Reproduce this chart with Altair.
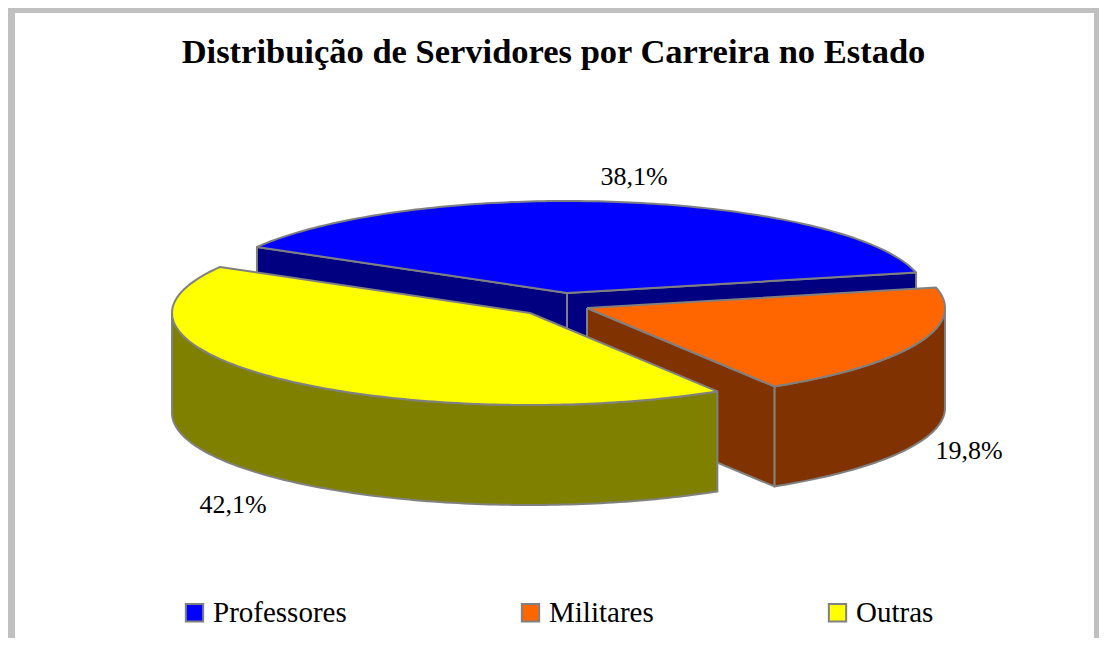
import numpy as np
import pandas as pd
import altair as alt

categories = ["Professores", "Militares", "Outras"]
shares = [38.1, 19.8, 42.1]
value_labels = ["38,1%", "19,8%", "42,1%"]
title_text = "Distribuição de Servidores por Carreira no Estado"

top_colors = ["#0000ff", "#ff6600", "#ffff00"]
wall_colors = ["#000080", "#803300", "#808000"]
GRAY = "#808080"
SERIF = "Liberation Serif"

W, H = 1091, 630
X0, Y0 = 8, 8
RX, RY, DEPTH = 358, 92, 100
START = 150.0
centers = [(567, 293), (587, 308), (530, 313)]
label_offsets = [(67, -116), (382, 143), (-297, 192)]

xs = alt.Scale(domain=[X0, X0 + W], nice=False, zero=False)
ys = alt.Scale(domain=[Y0, Y0 + H], reverse=True, nice=False, zero=False)


def arc(center, a0, a1, drop=0):
    n = max(2, int(abs(a1 - a0)) + 1)
    t = np.radians(np.linspace(a0, a1, n))
    return list(zip(center[0] + RX * np.cos(t), center[1] - RY * np.sin(t) + drop))


def polygon(points, fill, width=2.0):
    pts = list(points) + [points[0]]
    df = pd.DataFrame({"px": [p[0] for p in pts], "py": [p[1] for p in pts], "i": range(len(pts))})
    return (
        alt.Chart(df)
        .mark_line(filled=True, fill=fill, stroke=GRAY, strokeWidth=width, strokeJoin="round", interpolate="linear")
        .encode(
            x=alt.X("px:Q", scale=xs, axis=None),
            y=alt.Y("py:Q", scale=ys, axis=None),
            order=alt.Order("i:Q"),
        )
    )


layers = []
angle = START
bounds = []
for s in shares:
    bounds.append((angle, angle - s * 3.6))
    angle -= s * 3.6

# hidden key layer: gives the legend its entries
key = pd.DataFrame({"Carreira": categories, "px": [c[0] for c in centers], "py": [c[1] for c in centers]})
layers.append(
    alt.Chart(key)
    .mark_square(size=1, filled=True)
    .encode(
        x=alt.X("px:Q", scale=xs, axis=None),
        y=alt.Y("py:Q", scale=ys, axis=None),
        color=alt.Color(
            "Carreira:N",
            scale=alt.Scale(domain=categories, range=top_colors),
            sort=None,
            legend=alt.Legend(
                title=None,
                orient="none",
                legendX=172,
                legendY=590,
                direction="horizontal",
                columns=3,
                columnPadding=169,
                symbolType="square",
                symbolSize=300,
                symbolStrokeColor=GRAY,
                symbolStrokeWidth=2,
                symbolOpacity=1,
                labelFont=SERIF,
                labelFontSize=29,
                labelColor="#000000",
                labelOffset=4,
                labelLimit=300,
            ),
        ),
    )
)

for k in range(3):
    c = centers[k]
    a0, a1 = bounds[k]
    if k == 2:
        lo, hi = -180, a0
    if k == 1:
        lo, hi = a1, 0
    if k != 0:
        top_rim = arc(c, hi, lo)
        bot_rim = arc(c, lo, hi, DEPTH)
        layers.append(polygon(top_rim + bot_rim, wall_colors[k]))
    # cut faces that look towards the viewer
    faces = {0: [a0, a1], 1: [a1], 2: []}[k]
    for a in faces:
        edge = arc(c, a, a)[0]
        layers.append(
            polygon([c, edge, (edge[0], edge[1] + DEPTH), (c[0], c[1] + DEPTH)], wall_colors[k])
        )
    layers.append(polygon([c] + arc(c, a0, a1), top_colors[k]))

labels = pd.DataFrame(
    {
        "t": value_labels,
        "px": [c[0] + o[0] for c, o in zip(centers, label_offsets)],
        "py": [c[1] + o[1] for c, o in zip(centers, label_offsets)],
    }
)
layers.append(
    alt.Chart(labels)
    .mark_text(font=SERIF, fontSize=26, color="#000000", align="center", baseline="middle")
    .encode(
        x=alt.X("px:Q", scale=xs, axis=None),
        y=alt.Y("py:Q", scale=ys, axis=None),
        text="t:N",
    )
)

# grey frame
FRAME = "#c0c0c0"
layers.append(
    alt.Chart(pd.DataFrame({"a": [0]}))
    .mark_rule(color=FRAME, strokeWidth=7)
    .encode(x=alt.value(3.5), y=alt.value(0), y2=alt.value(H))
)
layers.append(
    alt.Chart(pd.DataFrame({"a": [0]}))
    .mark_rule(color=FRAME, strokeWidth=5)
    .encode(x=alt.value(W - 2.5), y=alt.value(0), y2=alt.value(H))
)
layers.append(
    alt.Chart(pd.DataFrame({"a": [0]}))
    .mark_rule(color=FRAME, strokeWidth=5)
    .encode(y=alt.value(2.5), x=alt.value(0), x2=alt.value(W))
)

chart = (
    alt.layer(*layers)
    .properties(
        width=W,
        height=H,
        padding=0,
        background="white",
        autosize=alt.AutoSizeParams(type="none"),
        title=alt.TitleParams(
            title_text,
            font=SERIF,
            fontSize=34.5,
            fontWeight="bold",
            color="#000000",
            anchor="middle",
            frame="group",
            baseline="alphabetic",
            offset=0,
            dy=93,
            dx=0,
        ),
    )
    .configure_view(stroke=None)
    .resolve_scale(x="shared", y="shared")
)

chart.save("out.html", embed_options={"renderer": "svg", "actions": False})
